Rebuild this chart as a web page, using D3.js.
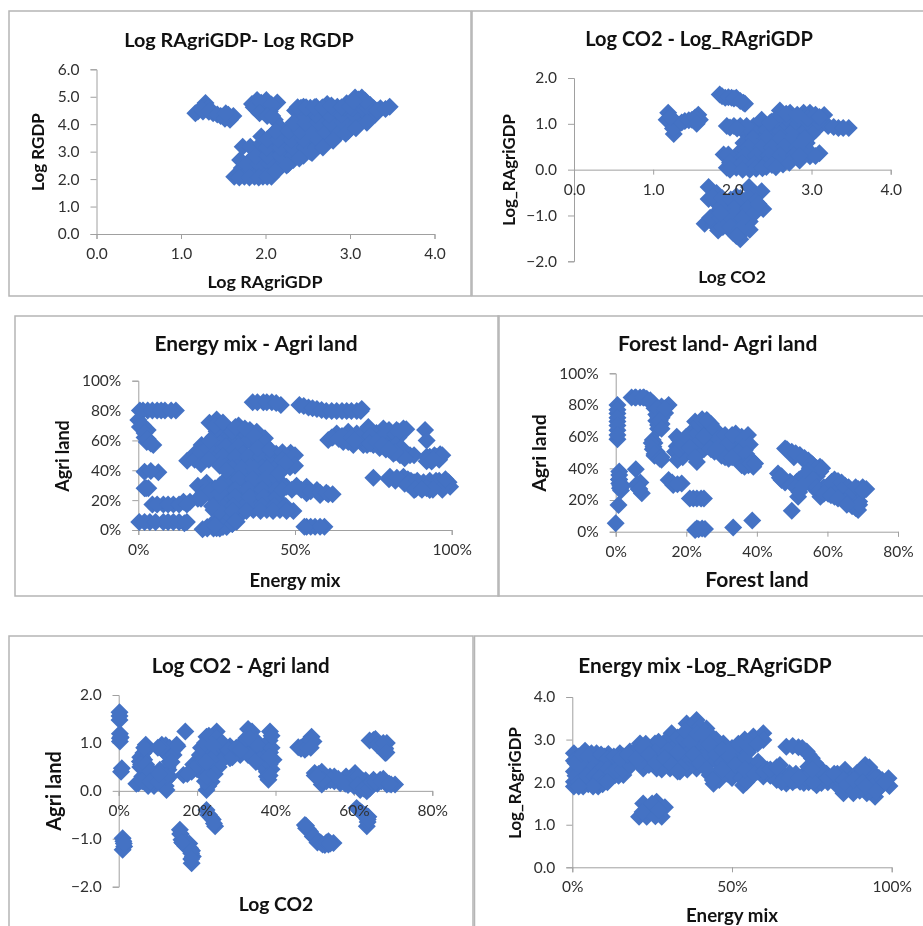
<!DOCTYPE html>
<html>
<head>
<meta charset="utf-8">
<script src="https://cdn.jsdelivr.net/npm/d3@7"></script>
<style>
html, body { margin: 0; padding: 0; background: #fff; }
svg { display: block; filter: blur(0.35px); }
text { font-family: Lato, "Open Sans", sans-serif; }
</style>
</head>
<body>
<svg id="chart"></svg>
<script>
// values, [x, y]
const ragriRgdp = [
  [1.29,4.77],[1.2,4.46],[1.17,4.4],[1.26,4.46],[1.38,4.4],[1.47,4.3],[1.56,4.34],[1.58,4.16],
  [1.84,4.74],[1.9,4.88],[2.01,4.88],[2.14,4.79],[1.9,4.52],[1.99,4.64],[2.05,4.46],[2.11,4.16],
  [1.63,2.09],[1.75,2.09],[1.87,2.09],[1.97,2.09],[2.07,2.09],
  [1.72,2.4],[1.85,2.4],[2.0,2.4],[2.17,2.4],
  [1.7,2.7],[1.82,2.7],[1.95,2.7],[2.1,2.7],[2.2,2.7],[2.33,2.7],
  [1.95,3.0],[2.1,3.0],[2.25,3.0],[2.4,3.0],[2.53,3.0],
  [1.73,3.18],[1.82,3.18],
  [1.95,3.3],[2.1,3.3],[2.25,3.3],[2.4,3.3],[2.55,3.3],[2.7,3.3],
  [1.95,3.55],[2.07,3.6],[2.2,3.6],[2.35,3.6],[2.5,3.6],[2.7,3.6],[2.86,3.6],
  [2.17,3.9],[2.3,3.9],[2.45,3.9],[2.6,3.9],[2.75,3.9],[2.92,3.9],
  [2.41,4.2],[2.55,4.2],[2.7,4.2],[2.85,4.2],[3.0,4.2],[3.2,4.2],
  [2.35,4.5],[2.5,4.5],[2.65,4.5],[2.8,4.5],[2.95,4.5],[3.1,4.5],[3.3,4.5],
  [2.45,4.64],[2.6,4.64],[2.73,4.74],[2.85,4.64],[2.96,4.76],[3.06,4.97],[3.14,4.97],[3.24,4.7],
  [3.28,4.58],[3.36,4.58],[3.47,4.64],
  [1.7,2.25],[1.8,2.25],[1.93,2.25],[2.08,2.25],
  [1.78,2.55],[1.92,2.55],[2.05,2.55],[2.2,2.55],[2.27,2.55],
  [1.88,2.85],[2.02,2.85],[2.17,2.85],[2.32,2.85],[2.45,2.85],
  [2.02,3.15],[2.17,3.15],[2.32,3.15],[2.47,3.15],[2.6,3.15],
  [2.02,3.45],[2.15,3.45],[2.3,3.45],[2.45,3.45],[2.62,3.45],[2.78,3.45],
  [2.12,3.75],[2.27,3.75],[2.4,3.75],[2.55,3.75],[2.7,3.75],[2.85,3.75],[2.98,3.75],
  [2.33,4.05],[2.47,4.05],[2.62,4.05],[2.77,4.05],[2.92,4.05],[3.08,4.05],
  [2.45,4.35],[2.6,4.35],[2.75,4.35],[2.9,4.35],[3.05,4.35],[3.2,4.35],[3.3,4.35],
  [2.42,4.6],[2.53,4.6],[2.67,4.6],[2.8,4.6],[2.93,4.6],[3.03,4.6],[3.15,4.6],[3.2,4.6],
  [1.69,2.06],[1.81,2.06],[1.92,2.06],[2.02,2.09],[2.12,2.3],[2.25,2.5],[2.4,2.75],[2.55,2.95],[2.68,3.15],[2.8,3.4],
  [2.95,3.65],[3.07,3.85],[3.2,4.05],[3.32,4.5],[3.42,4.55],
  [2.38,4.62],[2.48,4.62],[2.58,4.62],[2.68,4.62],[2.78,4.68],[2.9,4.62],[3,4.65],[3.1,4.9],[3.18,4.85],[3.04,4.85],
  [1.32,4.62],[1.24,4.55],[1.33,4.45],[1.43,4.35],[1.52,4.2],[1.62,4.3],[1.53,4.4],
  [1.86,4.62],[1.95,4.78],[2.07,4.72],[1.93,4.4],[2.02,4.3],[2.08,4.3]
];

const co2Ragri = [
  [1.19,1.24],[1.17,1.09],[1.25,1.09],[1.26,0.78],[1.32,0.98],[1.4,1.06],[1.49,1.09],[1.57,1.2],[1.59,1.09],
  [1.84,1.64],[1.91,1.57],[1.99,1.57],[2.05,1.57],[2.14,1.46],[2.16,1.44],
  [1.93,0.95],[2.1,0.95],[2.27,0.95],[2.43,0.95],[2.6,0.95],[2.77,0.95],[2.94,0.95],[3.07,0.95],[3.21,0.95],
  [3.34,0.91],[3.47,0.91],[2.37,1.09],[2.6,1.29],[2.73,1.24],[2.9,1.24],[2.98,1.24],[3.16,1.19],
  [2.18,0.77],[2.35,0.77],[2.5,0.77],[2.68,0.77],[2.85,0.77],[3.0,0.77],
  [2.14,0.58],[2.3,0.58],[2.46,0.58],[2.62,0.58],[2.77,0.58],[2.94,0.58],
  [2.1,0.4],[2.25,0.4],[2.4,0.4],[2.55,0.4],[2.7,0.4],[2.9,0.33],[3.1,0.36],[2.98,0.29],
  [2.05,0.22],[2.2,0.22],[2.35,0.22],[2.5,0.22],[2.65,0.22],[2.73,0.22],
  [1.93,0.04],[2.05,0.04],[2.22,0],[2.43,0.06],[2.64,0.11],
  [1.89,0.33],[1.95,0.33],[1.97,0.15],
  [1.7,-0.38],[1.8,-0.51],[1.7,-0.64],[1.8,-0.73],[1.93,-0.73],[2.05,-0.58],[2.21,-0.38],[2.37,-0.47],
  [2.27,-0.58],[2.14,-0.73],[2.39,-0.86],[2.27,-0.84],[2.1,-0.95],[1.93,-0.95],[1.78,-0.98],
  [1.65,-1.18],[1.76,-1.18],[1.82,-1.33],[1.93,-1.17],[2.05,-1.17],[2.22,-1.13],[2.1,-1.52],
  [2.01,-1.38],[2.14,-1.35],[2.22,-1.31],
  [2.26,0.86],[2.43,0.86],[2.6,0.86],[2.77,0.86],[2.93,0.86],[3.05,0.86],
  [2.26,0.68],[2.42,0.68],[2.6,0.68],[2.76,0.68],[2.92,0.68],
  [2.2,0.49],[2.36,0.49],[2.5,0.49],[2.66,0.49],[2.82,0.49],
  [2.16,0.31],[2.3,0.31],[2.46,0.31],[2.6,0.31],[2.78,0.31],
  [2.12,0.13],[2.28,0.13],[2.42,0.13],[2.58,0.13],
  [2.5,1.05],[2.65,1.05],[2.8,1.05],[2.95,1.05],[3.08,1.05],[2.68,1.13],[2.82,1.13],[2.95,1.13],
  [2.02,0.95],[2.18,0.95],[3.28,0.93],[3.4,0.91],
  [1.75,-0.6],[1.87,-0.62],[1.98,-0.65],[2.1,-0.62],[2.2,-0.6],[2.3,-0.7],[2.02,-0.85],[2.2,-0.85],[1.85,-0.85],
  [1.72,-1.05],[1.85,-1.05],[1.98,-1.05],[2.13,-1.05],[2.28,-0.95],[1.88,-1.25],[1.98,-1.25],[2.1,-1.3],[2.05,-1.45],[1.85,-0.95],[2.33,-0.75],
  [1.28,0.95],[1.25,0.9],[1.36,1.03],[1.45,1.08],[1.53,1.14],[1.55,1],[1.22,1.15],[1.87,1.6],[1.95,1.58],[2.02,1.55],[2.1,1.5],
  [1.97,0.92],[2.06,0.9],[1.97,0],[2.13,0],[2.3,0.02],[2.38,0.03],[2.5,0.1],[2.55,0.05],[2.72,0.15],[2.85,0.2],
  [3,0.35],[3.05,0.3],[2.85,0.3],[2.55,1.1],[2.68,1.22],[2.82,1.2],[3.05,1.2],[3.1,1.15],[2.48,1.03]
];

const energyAgri = [
  [0.5,80],[3,80],[6,80],[8.5,80],[12,80],[0,73.6],[0.5,69],[3,67],[2,62],[2.7,59],[4.8,57],
  [2,39],[6.4,38.6],[2,28],[3.2,28],
  [4.5,17],[8,17],[11.2,17],[14.4,19],[16.5,19],
  [0.3,5.4],[3.7,5.4],[8,5.4],[11.2,5.4],[14.7,4.5],
  [20.5,0.5],[24,1],[28.2,2],[31.4,5.6],[26.6,4.5],[29,8],
  [24,13.4],[28,13.4],[32.4,13.4],[36.7,13.4],[41,13.4],[45.2,13.4],[49.5,12.7],
  [25,19],[29,19],[33,19],[38,19],[42,19],[45,19],
  [19,29.7],[21.8,31.7],[24.5,28],[20.7,24.6],[24,22],
  [30,25.7],[34.6,25.7],[38.8,24.6],[43,23.4],[30,31],[34.6,31],
  [47.3,29],[50.5,29.7],[53.7,29],[57,26.8],[60.6,23.9],[58,23.4],[53.7,24.6],
  [15.6,46.4],[19.7,46.9],[20.2,56.9],[22.9,51],[22.7,71.9],[25,74],[27.7,69],[32,70],[35.6,67],[37.8,65.8],
  [40.4,61.4],[24,62.5],[28,62.5],[32.4,61.4],[36.7,58],[28,53.6],[32.4,53.6],[36.7,51],[41,51],[44,51],[48.6,51.8],
  [25,46.9],[29,45.8],[33.5,45.8],[37.8,44.6],[42,43.5],[48.4,42],[45.2,42.4],
  [30,38],[34.6,38],[38.8,38],[43,36.8],[36.7,32],[41,31],[45.2,31],
  [36.5,85.5],[39.9,85.5],[42.6,85.5],[45.5,83.7],[51.4,83.7],[54.3,82],[57,81],[60,79.7],[63.3,79.7],[66.5,79.7],[69.7,79.7],[71.3,81],
  [60.6,60.3],[63.3,64.7],[67,65.8],[69.7,64.7],[73.4,69],[78.2,68],[84.6,68],[82.4,67],
  [65.4,59],[68.6,57],[71.8,57],[75,57],[78.2,58],[81.4,61],[70.7,61],[75,62.5],
  [81.4,54.7],[83.5,54.7],[86.7,50],[83.5,50],[81.4,51],
  [91.5,67],[92,60],[96.3,50.7],[93,49],[93.6,45.8],
  [75,35],[80.3,35.7],[84.6,35.7],[88,32],[88,26.8],[91,32],[93,26.8],[94,31],[99,32],[99.5,29],[96,30],
  [53.7,2.2],[56.4,2.2],[59.4,2.2],
  [25,66],[29.5,66],[33.5,66],[22,58],[26,58],[30,58],[34,58],[38.5,58],[24,56],[28,56],[32,56],
  [18,51],[25,51],[29.5,51],[33.5,51],[23,49],[27,49],[31,49],[35,49],[39,49],[43,49],[46,49],
  [27.5,42],[31.5,42],[35.5,42],[39.5,42],[44,42],[30,41],[33,41],[37,41],[41,41],
  [28,34],[32,34],[36.5,34],[40.5,34],[44.5,34],[27,27],[31,27],[35,27],[39.5,27],[44,27],
  [27,22],[31,22],[35.5,22],[40,22],[44,22],[26.5,16],[30.5,16],[35,16],[39.5,16],[43.5,16],[47,16],
  [22,27],[19,21],[22,2],[26,1],[24,5],[28,6],[30,4],[32,9],[27,9],
  [62,62],[66,62],[72,59],[77,60],[79,64],[76,65],[80,65],[67,59],[73,57],[77,55],[80,56],[83,62],[81,59],[84,52],[79,54],
  [82,33],[85,31],[86,34],[89,29],[92,29],[95,33],[97,27],[90,28],[94.5,50],[96,47],
  [18,47],[20,52],[22,55],[23,60],[25,68],[24.5,70],[27,72],[30,66],[31,69],[34,68],[37,63],[40,58],[38,55],[42,54],[46,52],[50,50],
  [46,47],[50,43],[47,45],[20,44],[22.5,47],[26,43],[28,40],[45,38],
  [46,27],[49,27],[52,27],[55,26],[58,25],[60,25],[62,24],
  [26,12.8],[30,12.8],[34.5,12.8],[39,12.8],[43,12.8],[47.3,12.8],[23.5,16],[20,21],[23,26],[26,25],[26,30],
  [6,17],[9.5,17],[13,17],[15.5,17],[2,5.4],[5.5,5.4],[9.5,5.4],[13,5.4],[15.5,5.4],
  [1.5,80],[4.5,80],[7.3,80],[10.5,80],[38,85.5],[41,85.5],[44,85],[52.8,83],[55.6,81.5],[58.5,80.3],[61.7,79.7],[65,79.7],[68,79.7],[71,79.7],
  [1.5,70],[2,65],[3,61],[4,58],[4,39.5],[2.5,28],
  [55,2.2],[58,2.2],[53,2.2],[22,1],[25,1.2],[27,2],[24.5,3],[30,4],[31,6],
  [61.7,62],[64,61],[65,63],[68,62],[71,62],[72,65],[74,67],[74,63],[78,62],[80,67],[82,64],[83,66],[85.5,67.5],
  [69,60],[74,58],[76,59],[79,56],[82,57],[84,55],[85,52],[88,50],[85,48],[82,52],[78,57],[80,54],
  [80,34],[82.5,35],[87,33],[86,31],[90,30],[89,33],[93,33],[96,33],[97.5,30],[92,28],[94,27],[88.5,27.5],[90.5,27],[98,34],
  [92,49],[95,49],[97,50],[92,46],[94,47]
];

const forestAgri = [
  [0.5,80],[0.5,74.7],[0.5,69.5],[0.5,64],[0.5,58.3],
  [4.5,84.8],[6.9,84.8],[8.8,84],[10.7,81],[12.6,75.8],[12,72.6],[12,67.4],[15,80],[13,79],
  [10.5,57.9],[10.7,53.7],[11.6,50.5],[12,47.4],
  [1,35.8],[1,30.5],[1.2,27.4],[0.8,16.8],[0,5.3],[5.7,39.4],[5.9,29.5],[7.4,24.2],
  [15,32.6],[16.3,29.5],[18.7,30.5],[22,21],[24.2,21],
  [23,2],[22.5,1],[25.3,1.7],[33.3,2.7],[38.7,7],
  [17.3,60],[17.3,54],[16.8,50.5],[17.5,45.3],[19.6,51.6],[20.6,58],[22.5,69.5],[22.5,64],[23,44],
  [25.8,70.5],[27,68],[28,63],[25.3,63],[24.4,56.8],[27.2,55.8],[28,50.5],[30,58],[32.9,59],[35.7,60],[37,57],
  [33.8,53.7],[31,51.6],[32,46],[36.6,51.6],[34.7,45],[37.6,42],[39,41],[35.7,42],
  [48,52.6],[49.9,50.5],[52.2,48.4],[54.6,45],[57.9,41],[55,36.8],[46,36.8],[47,32.6],[49.4,31.6],[51.3,31.6],
  [51.7,22],[49.9,13.3],[55,30.5],[57.4,25],[60.2,24],[61.2,31.6],[63,28],[64,23],[66,26],[68.7,27],[70,28],
  [66,18],[68.7,13.7],
  [5.5,84.8],[8,84.8],[11,78],[12,76],[13,72],[14,75],[13,68],[11.5,74],[12,65],[11,56],[11,48],[13,47],
  [1,33],[1.5,26],[2,29],[6.5,27],[7,31],
  [18.5,56],[19,47],[20,56],[21,62],[22,55],[22,60],[24,60],[24,66],[25,52],[26.5,60],[29.5,61],[27,64],[30,53],[30,48],
  [33,55],[35,56],[33,50],[34,62],[29,55],[25.5,66],[32,55],[37.5,61],[35,47],[36,44],[38,46],[38.5,45],
  [50.5,47],[53,46],[56,42],[55,40],[52,33],[47,35],[54,34],[57,35],[58,38],[53,32],[56,28],[58,22],[59,28],[61,27],[62,25],
  [63,30],[65,29],[65,23],[67,24],[67,21],[69,19],[67,16],[62,22],[64.5,20],[69,23],[71,27],
  [5.7,84.8],[7.8,84.8],[9.8,83],[11.8,78],[14,78],[11.5,70],[12.5,70],[13,65],[10.2,56],[10.5,52],[11,49],[12.5,46],[13,45.5],
  [0.5,77],[0.5,72],[0.5,67],[0.5,61],[1,38],[0.9,33],[1.3,29],[6,30],[6.7,27],[23.5,1.5],[24.5,2],[23,21],[21,21],[25,21],[16,31],[17.5,30],
  [18,58],[18,52],[19,55],[20,60],[21,53],[23,62],[23.5,68],[24.5,71],[26,70],[28,65],[29,59],[31,61],[31.5,55],[33,61],[36,58],[38,55],
  [36,53],[35,50],[37,49],[30,50],[31,47],[33,47],[36.5,41],[38,43],[39.5,43],[27,52],[26,54],[24,58],[25,60],[28.5,52],[22.5,47],
  [48.5,52],[51,49.5],[53.5,46.5],[55.5,43],[57,40],[58.5,40],[54.5,38],[54,36],[56,33],[48,31],[46.5,34],[50,30],[51,28],[52,25],[53,29],
  [57,28],[58,26],[60,26],[60.5,29],[63,32],[62,33],[64,31],[66,28],[68,28],[64,26],[62,24],[66,22],[65,19],[68,17],[68,15],[69,17],[70,26],
  [59,24],[61,23],[63,21],[65.5,17]
];

const co2Agri = [
  [0.2,1.64],[0.2,1.48],[0.3,1.19],[0.3,1.03],[0.8,0.47],[1,-0.99],[1.4,-1.16],[1,-1.23],
  [6.3,0.79],[5.4,0.61],[6.9,0.96],[5,0.16],[7.1,0.3],[8.4,0.23],[10.5,0.44],[11,0.96],[12.2,0.79],[13,0.61],
  [14.8,0.96],[9.7,0.33],[12.2,0.23],[12.2,0.02],[12.7,0.44],[7.6,0.47],
  [17,1.24],[16.5,0.33],[18.6,0.4],[20.7,0.58],[21.2,0.37],[22.4,0.02],[23.7,0.19],[22.4,1.13],[25,1.24],
  [22.9,0.79],[20.7,0.75],[25.4,0.99],[25.9,0.79],[25,0.61],[28.4,0.93],[28.4,0.68],[31,0.75],
  [33,1.29],[34,1.24],[33.5,0.96],[34.4,0.72],[36.9,0.89],[38.6,1.24],[37.8,0.96],[39.5,0.65],[37.8,0.58],[37.8,0.4],[38.2,0.23],[24.1,0.44],
  [22.4,-0.4],[24,-0.6],[24.6,-0.74],
  [15.6,-0.81],[16,-1.02],[18.2,-1.2],[18.9,-1.37],[18.6,-1.51],
  [45.8,0.91],[48.4,0.96],[49.2,1.13],[49.7,1.03],[47.5,0.86],
  [50,0.37],[51.8,0.4],[51.8,0.13],[53.9,0.3],[56.5,0.16],[59,0.16],[60.3,0.37],[61.6,0.19],[63.3,-0.01],
  [65,0.23],[66.7,0.23],[68.4,0.13],[70.5,0.13],[61.6,0.02],
  [65,1.06],[67,0.96],[68.4,1],[68,0.79],
  [60.7,-0.36],[63.7,-0.54],[63.3,-0.74],
  [47.5,-0.71],[48.8,-0.85],[50.5,-1.02],[52.6,-1.13],[54.8,-1.09],
  [0.2,1.56],[0.3,1.1],[0.6,0.4],[6,0.7],[5.5,0.5],[7,0.85],[9,0.1],[6,0.3],[7.5,0.1],[10.5,0.3],[11.2,0.85],[12.5,0.5],
  [14,0.85],[13.5,0.8],[9,0.32],[11.5,0.12],[19,0.55],[22,0.5],[20,0.45],[22.4,0.95],[24,1.05],[24,0.8],[21.5,0.65],
  [24,0.6],[23.5,0.3],[22.9,0.1],[27,0.85],[27,0.7],[29.5,0.8],[32,0.85],[35,1.05],[35,0.85],[36.5,0.75],[38.6,0.8],
  [38.5,1.05],[39,0.45],[31,0.95],[33,0.75],
  [51,0.25],[53,0.2],[55,0.2],[57.5,0.2],[59,0.25],[60,0.1],[62.5,0.2],[64,0.1],[63,0.22],[66,0.15],[67.5,0.25],[69.5,0.13],
  [52,0.3],[55,0.3],[58,0.3],
  [16.5,-1.1],[17,-1.15],[18.5,-1.3],[15.8,-0.9],[17.5,-1.1],[23,-0.5],[63.5,-0.65],[62,-0.45],[49.5,-0.95],[51.5,-1.08],
  [53.5,-1.12],[53.5,-1.05],[47.8,-0.78],[46.5,0.9],[47.5,0.97],[64,1.05],[66,1],[67.8,0.9],
  [1.2,-1.05],[1.3,-1.1],[0.5,1.12],
  [5.5,0.7],[6.5,0.65],[5.7,0.55],[6.5,0.9],[7,0.55],[8,0.4],[11,0.35],[12.5,0.75],[12,0.95],[13,0.9],[14,0.75],[15,0.93],[13.5,0.6],
  [13,0.3],[12,0.1],[12,0.3],[4.5,0.15],[6,0.2],[8,0.2],[10,0.2],[10.5,0.35],[11,0.9],[10,0.9],
  [21,0.55],[19,0.45],[17.5,0.35],[22,0.2],[22.5,0.3],[24.5,0.35],[25.5,0.5],[21,0.9],[22,1],[23,1.15],[25,1.1],[26.5,1],[26,0.6],[24,0.95],
  [23.5,0.65],[22.5,0.6],[28,0.85],[29,0.7],[30,0.9],[31,0.85],[32.5,1.1],[33.5,1.1],[35.5,0.95],[36,0.65],[37,0.5],[38.5,0.55],[39,0.9],
  [39,1.15],[37.8,0.3],[38.5,0.32],[38.5,0.7],[35,0.6],
  [22.8,-0.5],[23.5,-0.55],[24.3,-0.68],[15.7,-0.9],[17,-1.08],[18,-1.1],[18.7,-1.25],[18.5,-1.42],[16.2,-1.08],
  [46.5,0.88],[48,0.9],[49,1.05],[49,0.9],[50,0.32],[51,0.35],[52.5,0.3],[54,0.22],[56,0.25],[57.8,0.15],[58.5,0.12],[60,0.28],[61,0.3],
  [61,0.12],[62.5,0.05],[64,0.05],[64.5,0.18],[65.5,0.18],[67,0.2],[69,0.15],[52,0.22],[50.5,0.3],
  [65.5,1.08],[66,0.95],[67.5,1],[68,0.88],[68.3,0.8],[61.5,-0.42],[63,-0.5],[63.5,-0.6],[48.3,-0.8],[49.8,-0.95],[50.7,-1.08],[52,-1.12],
  [53,-1.08],[54,-1.1],[47.8,-0.73]
];

const energyRagri = [
  [0.5,2.68],[4,2.74],[7.6,2.68],[11.3,2.66],[2.4,2.48],[6,2.48],[9.7,2.48],[1.9,2.37],
  [0.5,2.01],[0.5,1.9],[2.4,2.25],[6.6,2.25],[9.7,2.2],[13.9,2.25],[3.4,1.9],[8.1,1.9],[4,2.01],[13.4,2.17],[17,2.29],
  [14.9,2.68],[18,2.72],[21.2,2.91],[25.9,2.91],[22.2,2.64],[26.4,2.64],[22.2,2.32],[26.4,2.32],[30.6,2.32],[33.7,2.25],
  [31.1,3.15],[30.6,2.87],[34.8,2.83],[34.8,2.56],[38.9,2.48],[35.8,3.38],[38.9,3.46],[42,3.26],[40,3.07],[43.6,3.07],
  [38.9,2.83],[43,2.75],[47.3,2.91],[47.3,2.6],[42.6,2.44],[38.9,2.32],[44.2,1.96],[43,2.17],[46.2,2.25],
  [50.4,2.68],[53.5,2.91],[56.7,3.07],[59.8,3.15],[59.8,2.99],[56.7,2.87],[50.4,2.32],[53.5,1.93],[52.5,2.21],
  [55.6,2.32],[58.2,2.48],[59.8,2.13],[65,2.4],[64,2.21],[67,1.97],[68,2.21],[71.3,2.01],[72.3,2.17],[75,2.09],[76.5,1.93],
  [67,2.83],[70.8,2.82],[73.4,2.72],[75,2.56],[76.5,2.36],[73.9,2.36],
  [79.6,2.2],[81.7,2.09],[85.4,2.29],[84.9,1.74],[82.8,1.93],[88,1.74],[92.2,1.74],[94.8,1.66],[91.7,2.4],[94.3,2.21],
  [91.1,2.13],[89,2.21],[95.8,2.01],[99,2.09],[99.3,1.91],[87,2.05],
  [22.2,1.5],[20.9,1.19],[23.3,1.19],[26.4,1.54],[29,1.41],[28,1.19],[25.4,1.35],
  [2,2.6],[6,2.68],[10,2.6],[0.5,2.5],[0.5,2.25],[4.2,2.35],[8,2.35],[12,2.4],[2.2,2.1],[5.5,2.1],[8,2.05],[10,2.05],[11.5,2.15],
  [1,2.15],[5,1.95],[13,2.4],[15,2.4],[16,2.17],[14.5,2.15],
  [17,2.55],[19,2.5],[20,2.75],[24,2.78],[24,2.5],[28,2.5],[28,2.78],[29,2.95],[28,2.3],[24,2.4],[32,2.6],[33,2.9],[33,3.05],
  [36.5,2.8],[37,3.1],[37,3.3],[40,3.3],[36.5,2.45],[32.5,2.4],[36,2.3],[41,2.6],[45,2.5],[48,2.4],[45,2.85],[41,2.95],[45,2.2],
  [45,3],[52,2.5],[52,2.75],[55,2.7],[54,2.55],[57,3],[54,3],[48.5,2.2],[50,2.1],[53,2.1],[56,2.12],[58,2.25],[61,2.3],[62,2.15],
  [66,2.2],[64,2.05],[66,2.1],[70,2.05],[70,2.2],[74,2],[72.5,1.98],[69,2],[77,2.1],[78,2.2],[78,1.98],[80,2],[83,2.1],[84.5,2.1],
  [83,2.2],[86,2],[86,1.85],[89,1.9],[90,2],[91,1.85],[93,2],[92.5,2.25],[96,1.85],[93,1.78],[96,2.1],[97,1.95],[89,2.1],[93,2.35],
  [24,1.3],[22,1.3],[26,1.2],[25,1.5],[27,1.35],
  [1,2.45],[3,2.65],[5,2.6],[7.5,2.5],[9,2.65],[11,2.55],[13,2.6],[3.5,2.3],[6,2.3],[9,2.3],[11,2.3],[12,2.2],[14,2.3],[16,2.3],[18,2.4],
  [19,2.65],[16,2.6],[2,2],[4.5,2.15],[7,2.15],[8.5,2.1],[9.5,1.95],[11,2],[6.5,1.9],[2,1.9],[15,2.55],[17.5,2.65],[21,2.45],[20,2.55],
  [22,2.8],[23,2.9],[27,2.95],[26,2.7],[24,2.65],[26,2.45],[30,2.75],[29,2.55],[31,2.4],[34,2.35],[33,2.7],[35,3],[33,2.25],[35.5,3.2],
  [37,2.95],[38,2.65],[39,3.15],[41,3.15],[40,2.45],[42,2.3],[43,2.9],[45,2.65],[47,2.75],[47,2.45],[49,2.6],[50,2.8],[52,2.9],[55,2.85],
  [58,2.9],[51,2.4],[46,2.05],[44,2.05],[47,2.3],[54.5,2],[54,2.3],[57,2.2],[60,2.25],[62,2.3],[64,2.35],[67,2.1],[65.5,2],[68,2.1],
  [73,2.1],[71,2.1],[75.5,2],[78,2.3],[80,2.1],[82,2.2],[85,2.05],[86,1.95],[88,1.8],[90,1.8],[88,2.05],[91,2.3],[91,2],[95,2.1],[94,1.9],
  [97,2.05],[98,2],[92,1.9],[95,1.78],[69,2.85],[72,2.8],[74,2.65],[76,2.45],[75,2.3]
];

const logTicks4 = [0, 1, 2, 3, 4];
const logTicks6 = [0, 1, 2, 3, 4, 5, 6];
const signedTicks = [-2, -1, 0, 1, 2];
const pctTicks100 = [0, 50, 100];
const pctTicks20 = [0, 20, 40, 60, 80, 100];
const pctTicks80 = [0, 20, 40, 60, 80];

const fmtLog = d3.format('.1f');
const fmtPct = d => d + '%';

// left/right/top/bottom are the pixel ends of the axes, box the grey frame
const panels = [
  { title: 'Log RAgriGDP- Log RGDP', xLabel: 'Log RAgriGDP', yLabel: 'Log RGDP', points: ragriRgdp,
    xDomain: [0, 4], yDomain: [0, 6], xTicks: logTicks4, yTicks: logTicks6, xFmt: fmtLog, yFmt: fmtLog,
    left: 96.5, right: 434.5, top: 69.3, bottom: 234, box: [9, 11, 462, 285],
    titlePos: [239, 46.5], xLabelPos: [265, 288], yLabelPos: [44, 152], titleSize: 19.8, xSize: 17.9, ySize: 17 },
  { title: 'Log CO2 - Log_RAgriGDP', xLabel: 'Log CO2', yLabel: 'Log_RAgriGDP', points: co2Ragri,
    xDomain: [0, 4], yDomain: [-2, 2], xTicks: logTicks4, yTicks: signedTicks, xFmt: fmtLog, yFmt: fmtLog,
    left: 574, right: 890.7, top: 78, bottom: 261.3, box: [472, 11, 470, 285],
    titlePos: [699, 46], xLabelPos: [732, 283], yLabelPos: [515, 170], titleSize: 20, xSize: 17.5, ySize: 16.8 },
  { title: 'Energy mix - Agri land', xLabel: 'Energy mix', yLabel: 'Agri land', points: energyAgri,
    xDomain: [0, 100], yDomain: [0, 100], xTicks: pctTicks100, yTicks: pctTicks20, xFmt: fmtPct, yFmt: fmtPct,
    left: 138.3, right: 451.7, top: 380.7, bottom: 530, box: [15, 316, 484, 280],
    titlePos: [256, 350.7], xLabelPos: [295, 586.7], yLabelPos: [69, 456], titleSize: 20.9, xSize: 18.5, ySize: 18 },
  { title: 'Forest land- Agri land', xLabel: 'Forest land', yLabel: 'Agri land', points: forestAgri,
    xDomain: [0, 80], yDomain: [0, 100], xTicks: pctTicks80, yTicks: pctTicks20, xFmt: fmtPct, yFmt: fmtPct,
    left: 615.7, right: 898, top: 373.3, bottom: 531.7, box: [498, 316, 470, 280],
    titlePos: [717.7, 350.7], xLabelPos: [757, 586.7], yLabelPos: [546, 453], titleSize: 21, xSize: 21, ySize: 19.5 },
  { title: 'Log CO2 - Agri land', xLabel: 'Log CO2', yLabel: 'Agri land', points: co2Agri,
    xDomain: [0, 80], yDomain: [-2, 2], xTicks: pctTicks80, yTicks: signedTicks, xFmt: fmtPct, yFmt: fmtLog,
    left: 118.7, right: 432.3, top: 695, bottom: 886.7, box: [9, 636, 464, 320],
    titlePos: [240.7, 672.7], xLabelPos: [276, 910.7], yLabelPos: [61, 791], titleSize: 20.5, xSize: 19.3, ySize: 20 },
  { title: 'Energy mix -Log_RAgriGDP', xLabel: 'Energy mix', yLabel: 'Log_RAgriGDP', points: energyRagri,
    xDomain: [0, 100], yDomain: [0, 4], xTicks: pctTicks100, yTicks: logTicks4, xFmt: fmtPct, yFmt: fmtLog,
    left: 572.3, right: 891.7, top: 697, bottom: 867.3, box: [474.5, 636, 470, 320],
    titlePos: [705, 672.7], xLabelPos: [732, 921.7], yLabelPos: [520.7, 783], titleSize: 20.8, xSize: 18.7, ySize: 16.8 }
];

const svg = d3.select('#chart').attr('width', 923).attr('height', 926);
svg.append('rect').attr('width', 923).attr('height', 926).attr('fill', '#fff');

// Excel style diamond: a square turned by 45 degrees
const diamond = d3.symbol().type(d3.symbolSquare).size(162)();

panels.forEach(p => {
  const g = svg.append('g');

  g.append('rect')
    .attr('x', p.box[0]).attr('y', p.box[1])
    .attr('width', p.box[2]).attr('height', p.box[3])
    .attr('fill', 'none').attr('stroke', '#b5b5b5').attr('stroke-width', 1.5);

  const x = d3.scaleLinear().domain(p.xDomain).range([p.left, p.right]);
  const y = d3.scaleLinear().domain(p.yDomain).range([p.bottom, p.top]);
  const xAt = y(Math.max(0, p.yDomain[0]));
  const yAt = x(0);

  // lines go under the markers, tick labels on top of them
  const xLine = g.append('g').attr('transform', 'translate(0,' + xAt + ')')
    .call(d3.axisBottom(x).tickValues(p.xTicks).tickFormat('').tickSizeOuter(0).tickSize(5));
  const yLine = g.append('g').attr('transform', 'translate(' + yAt + ',0)')
    .call(d3.axisLeft(y).tickValues(p.yTicks).tickFormat('').tickSizeOuter(0).tickSize(6));
  [xLine, yLine].forEach(a => a.selectAll('path, line').attr('stroke', '#a0a0a0'));

  g.append('g').selectAll('path').data(p.points).enter().append('path')
    .attr('d', diamond)
    .attr('fill', '#4472c4')
    .attr('transform', d => 'translate(' + x(d[0]) + ',' + y(d[1]) + ') rotate(45)');

  const xText = g.append('g').attr('transform', 'translate(0,' + xAt + ')')
    .call(d3.axisBottom(x).tickValues(p.xTicks).tickFormat(p.xFmt).tickSize(0).tickPadding(14));
  const yText = g.append('g').attr('transform', 'translate(' + yAt + ',0)')
    .call(d3.axisLeft(y).tickValues(p.yTicks).tickFormat(p.yFmt).tickSize(0).tickPadding(17));
  [xText, yText].forEach(a => {
    a.select('.domain').remove();
    a.selectAll('text').attr('font-size', 15.5).attr('font-family', 'Lato').attr('fill', '#303030');
  });

  const bold = (txt, pos, size) => g.append('text')
    .attr('x', pos[0]).attr('y', pos[1])
    .attr('text-anchor', 'middle')
    .attr('font-weight', 700)
    .attr('font-size', size)
    .attr('fill', '#111')
    .text(txt);

  bold(p.title, p.titlePos, p.titleSize);
  bold(p.xLabel, p.xLabelPos, p.xSize);
  bold(p.yLabel, [0, 0], p.ySize)
    .attr('x', null).attr('y', null)
    .attr('transform', 'translate(' + p.yLabelPos[0] + ',' + p.yLabelPos[1] + ') rotate(-90)');
});
</script>
</body>
</html>
